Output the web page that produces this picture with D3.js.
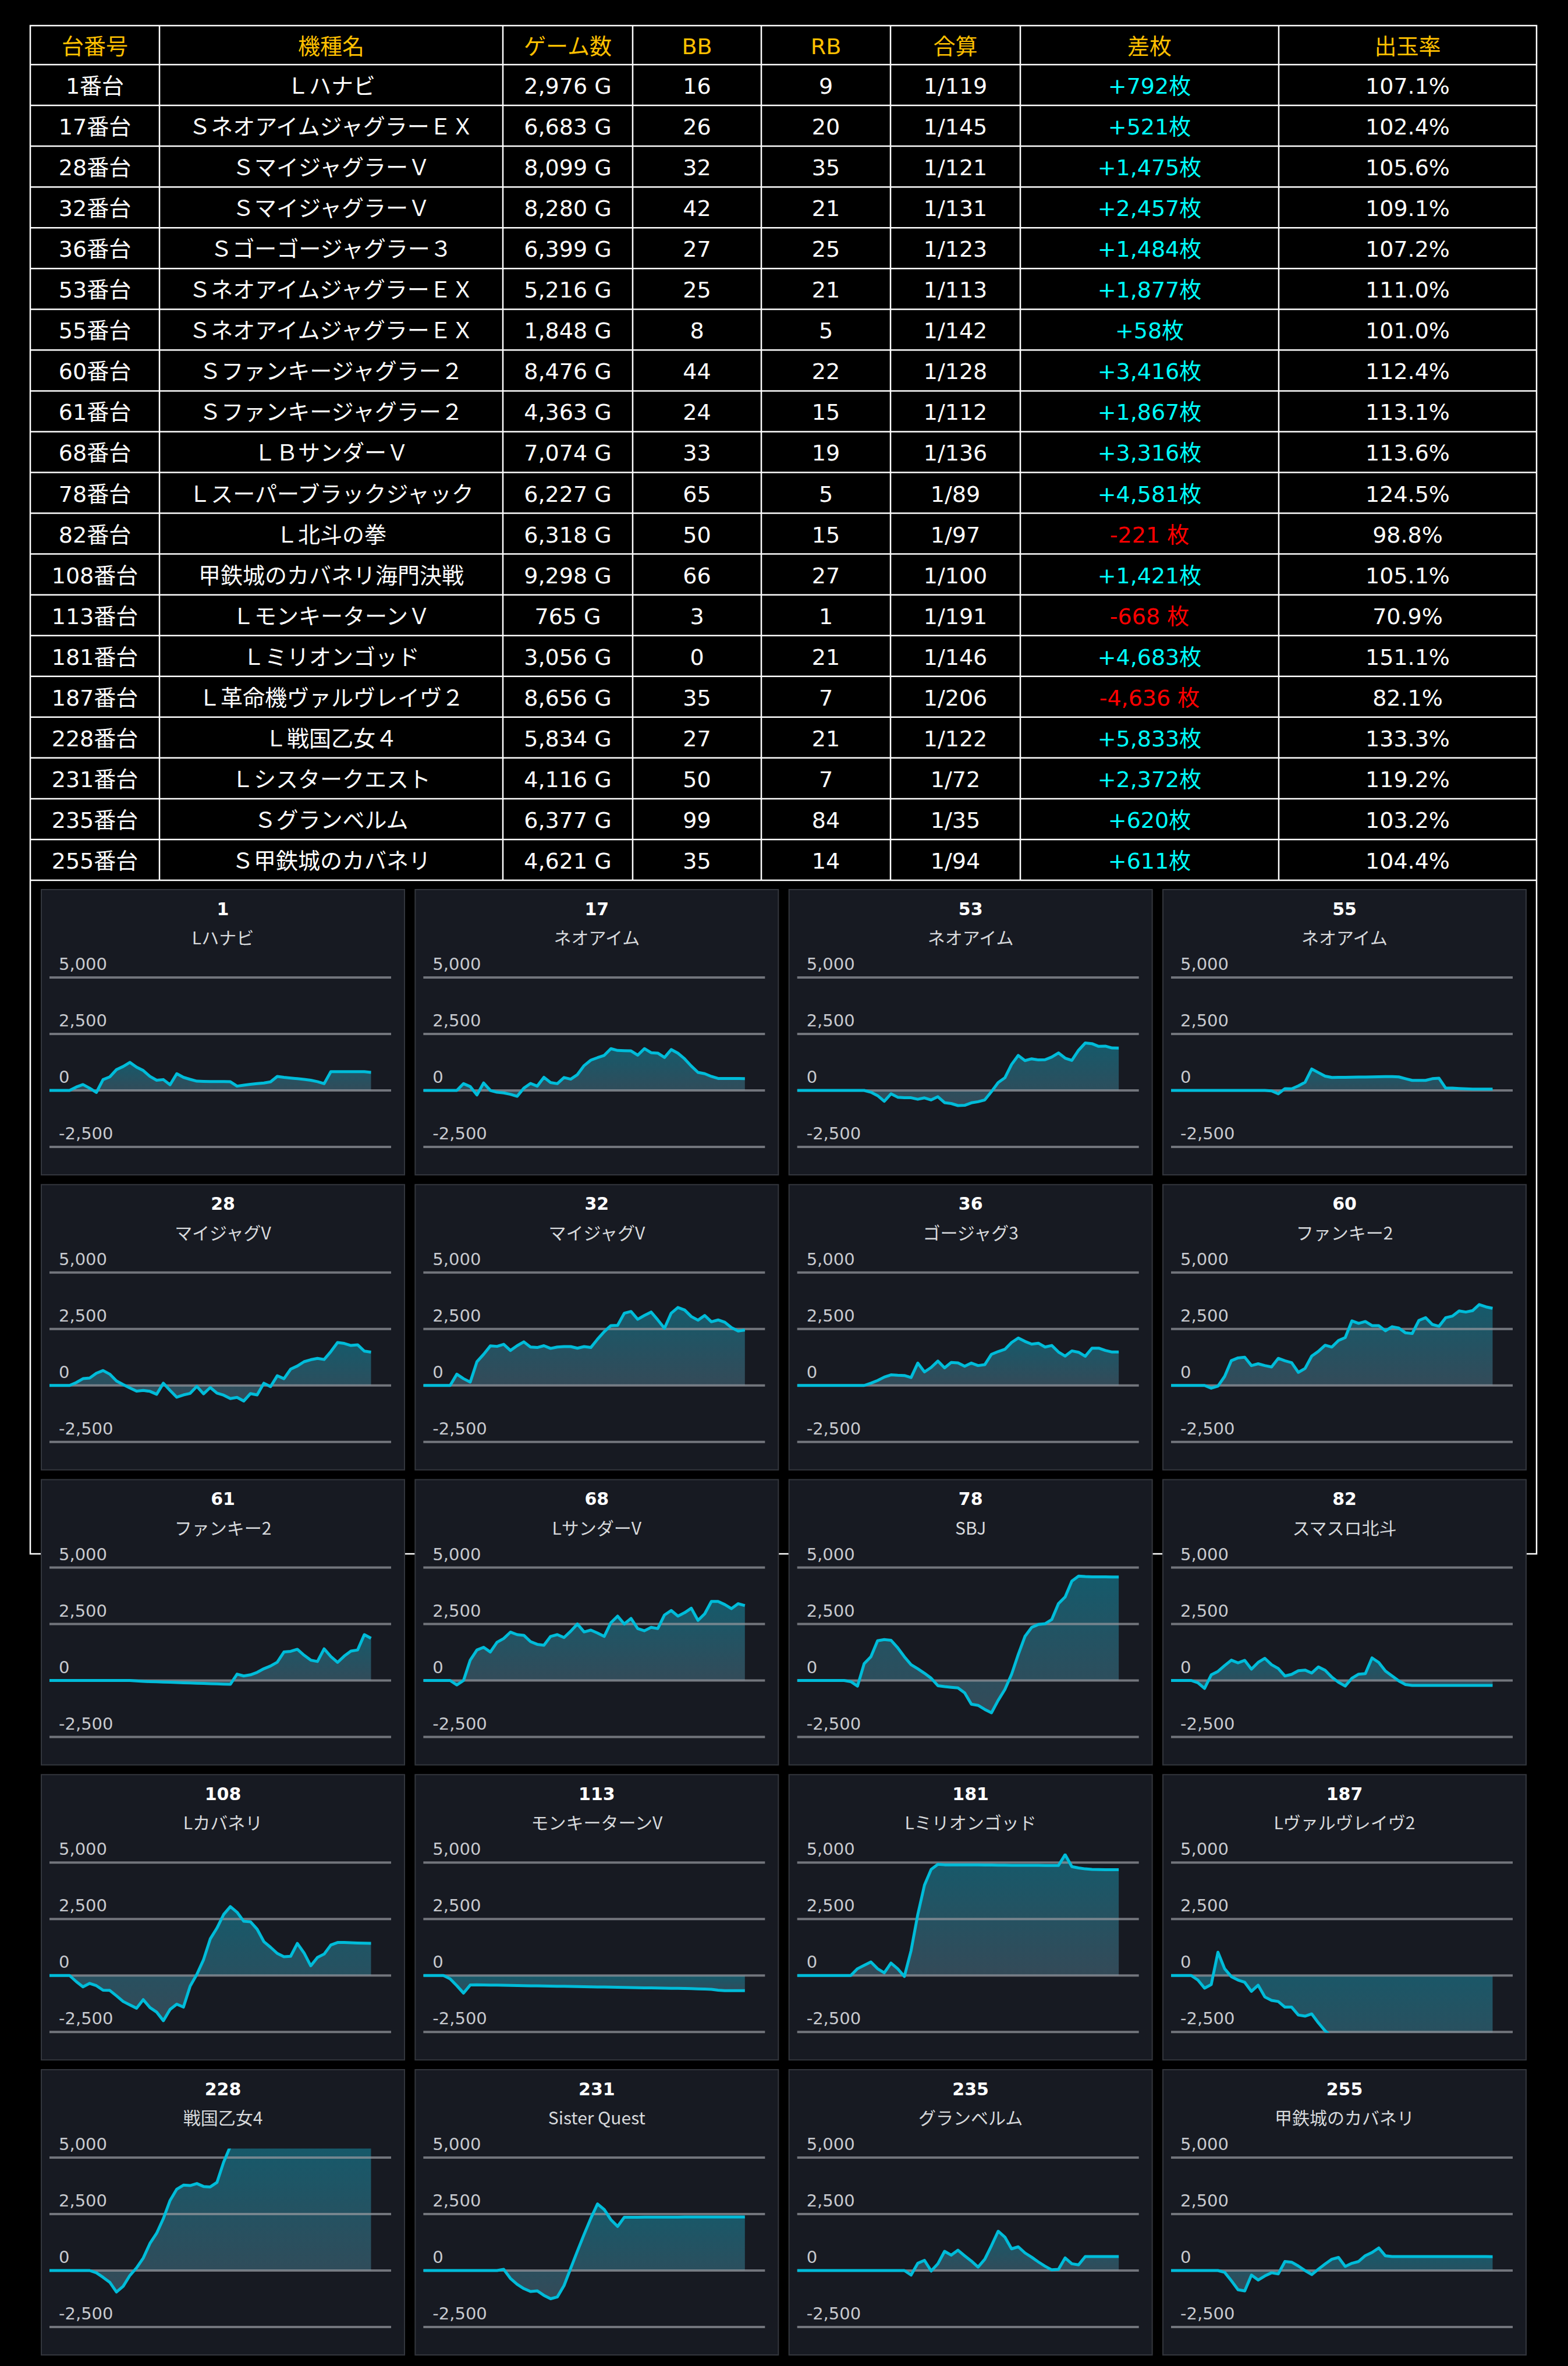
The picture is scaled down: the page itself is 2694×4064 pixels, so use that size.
<!DOCTYPE html>
<html>
<head>
<meta charset="utf-8">
<script src="https://cdn.jsdelivr.net/npm/d3@7"></script>
<style>
  body { margin: 0; background: #000; }
  svg { display: block; }
</style>
</head>
<body>
<div id="chart"></div>
<script>
// ---- table data ----
const headers = ["台番号", "機種名", "ゲーム数", "BB", "RB", "合算", "差枚", "出玉率"];
const tableNo = ["1番台", "17番台", "28番台", "32番台", "36番台", "53番台", "55番台", "60番台", "61番台", "68番台",
  "78番台", "82番台", "108番台", "113番台", "181番台", "187番台", "228番台", "231番台", "235番台", "255番台"];
const machineNames = ["Ｌハナビ", "ＳネオアイムジャグラーＥＸ", "ＳマイジャグラーＶ", "ＳマイジャグラーＶ", "Ｓゴーゴージャグラー３",
  "ＳネオアイムジャグラーＥＸ", "ＳネオアイムジャグラーＥＸ", "Ｓファンキージャグラー２", "Ｓファンキージャグラー２", "ＬＢサンダーＶ",
  "Ｌスーパーブラックジャック", "Ｌ北斗の拳", "甲鉄城のカバネリ海門決戦", "ＬモンキーターンＶ", "Ｌミリオンゴッド",
  "Ｌ革命機ヴァルヴレイヴ２", "Ｌ戦国乙女４", "Ｌシスタークエスト", "Ｓグランベルム", "Ｓ甲鉄城のカバネリ"];
const games = [2976, 6683, 8099, 8280, 6399, 5216, 1848, 8476, 4363, 7074, 6227, 6318, 9298, 765, 3056, 8656, 5834, 4116, 6377, 4621];
const bb = [16, 26, 32, 42, 27, 25, 8, 44, 24, 33, 65, 50, 66, 3, 0, 35, 27, 50, 99, 35];
const rb = [9, 20, 35, 21, 25, 21, 5, 22, 15, 19, 5, 15, 27, 1, 21, 7, 21, 7, 84, 14];
const gassan = ["1/119", "1/145", "1/121", "1/131", "1/123", "1/113", "1/142", "1/128", "1/112", "1/136",
  "1/89", "1/97", "1/100", "1/191", "1/146", "1/206", "1/122", "1/72", "1/35", "1/94"];
const diff = [792, 521, 1475, 2457, 1484, 1877, 58, 3416, 1867, 3316, 4581, -221, 1421, -668, 4683, -4636, 5833, 2372, 620, 611];
const rate = ["107.1%", "102.4%", "105.6%", "109.1%", "107.2%", "111.0%", "101.0%", "112.4%", "113.1%", "113.6%",
  "124.5%", "98.8%", "105.1%", "70.9%", "151.1%", "82.1%", "133.3%", "119.2%", "103.2%", "104.4%"];

// ---- chart panel data (差枚 over the day) ----
const panelNo = [1, 17, 53, 55, 28, 32, 36, 60, 61, 68, 78, 82, 108, 113, 181, 187, 228, 231, 235, 255];
const panelName = ["Lハナビ", "ネオアイム", "ネオアイム", "ネオアイム", "マイジャグV", "マイジャグV", "ゴージャグ3", "ファンキー2",
  "ファンキー2", "LサンダーV", "SBJ", "スマスロ北斗", "Lカバネリ", "モンキーターンV", "Lミリオンゴッド", "Lヴァルヴレイヴ2",
  "戦国乙女4", "Sister Quest", "グランベルム", "甲鉄城のカバネリ"];
const yTicks = [5000, 2500, 0, -2500];

const s1 = [0,0,0,0,150,260,100,-90,480,600,920,1060,1240,1030,880,620,450,480,250,740,580,490,410,400,395,390,390,385,190,230,270,300,330,380,620,580,550,520,490,450,390,300,830,830,830,830,830,830,800];
const s17 = [0,0,0,0,0,0,300,170,-200,330,0,-80,-110,-170,-260,100,310,190,580,350,300,570,500,700,1100,1340,1450,1550,1850,1770,1760,1750,1560,1850,1670,1650,1460,1810,1650,1400,1080,800,740,620,530,530,530,530,521];
const s53 = [0,0,0,0,0,0,0,0,0,0,0,-80,-230,-480,-150,-300,-325,-325,-390,-330,-420,-280,-540,-580,-670,-660,-550,-500,-420,-50,350,560,1150,1550,1320,1400,1350,1360,1480,1660,1430,1330,1780,2100,2070,1950,1960,1880,1877];
const s55 = [0,0,0,0,0,0,0,0,0,0,0,0,0,0,0,-20,-150,80,70,200,360,950,790,630,575,580,580,585,590,595,600,605,610,615,600,520,445,445,445,520,540,100,100,85,70,60,60,58,58];
const s28 = [0,0,0,0,130,300,330,540,660,500,200,40,-110,-250,-220,-260,-390,100,-220,-520,-420,-350,-40,-370,-90,-340,-430,-580,-530,-690,-360,-420,100,-50,430,300,720,860,1050,1140,1200,1150,1500,1900,1860,1770,1800,1520,1475];
const s32 = [0,0,0,0,0,500,300,150,1050,1380,1750,1730,1820,1550,1760,1930,1700,1680,1760,1640,1700,1720,1720,1650,1720,1680,2050,2380,2650,2660,3200,3275,2930,3100,3250,2900,2530,3200,3450,3340,3050,2890,3100,2820,2900,2800,2560,2410,2457];
const s36 = [0,0,0,0,0,0,0,0,0,0,0,100,220,370,470,450,440,350,990,600,800,1080,780,1020,1000,850,990,880,920,1380,1500,1600,1900,2100,1950,1830,1870,1700,1770,1480,1300,1530,1470,1290,1650,1650,1550,1480,1484];
const s60 = [0,0,0,0,0,0,-120,-30,400,1100,1220,1250,880,960,880,820,1200,1090,1010,580,750,1300,1510,1780,1700,1990,2120,2860,2750,2830,2650,2650,2420,2600,2540,2330,2300,2880,3000,2700,2620,3000,3070,3300,3250,3310,3580,3480,3416];
const s61 = [0,0,0,0,0,0,0,0,0,0,0,0,0,-20,-40,-50,-60,-70,-80,-90,-100,-110,-120,-130,-140,-150,-160,-170,280,200,250,360,520,640,810,1260,1290,1380,1120,900,840,1400,1060,800,1080,1300,1350,2030,1867];
const s68 = [0,0,0,0,0,-200,0,900,1350,1470,1260,1690,1860,2140,2030,2000,1720,1600,1560,1950,2030,1900,2180,2500,2150,2230,2100,1950,2560,2850,2500,2750,2300,2200,2350,2300,2900,3100,2850,3000,3200,2660,2950,3500,3500,3360,3180,3400,3316];
const s78 = [0,0,0,0,0,0,0,0,-50,-250,750,1050,1760,1810,1780,1450,1050,700,520,320,100,-230,-270,-300,-330,-550,-1050,-1100,-1280,-1430,-880,-400,270,1150,1950,2350,2480,2510,2700,3400,3700,4400,4620,4600,4590,4590,4585,4581,4581];
const s82 = [0,0,0,0,-100,-350,250,400,660,900,780,890,500,800,980,700,530,200,270,430,460,330,600,450,150,-80,-250,100,280,300,1000,800,420,200,-20,-180,-220,-221,-221,-221,-221,-221,-221,-221,-221,-221,-221,-221,-221];
const s108 = [0,0,0,0,-270,-500,-350,-450,-650,-660,-900,-1150,-1300,-1450,-1070,-1420,-1620,-2000,-1500,-1270,-1400,-470,50,700,1620,2100,2700,3050,2800,2400,2380,2050,1500,1250,980,830,850,1420,1000,430,800,950,1350,1460,1460,1450,1440,1430,1421];
const s113 = [0,0,0,0,-150,-450,-780,-420,-410,-420,-425,-428,-434,-440,-444,-450,-456,-460,-466,-470,-476,-480,-486,-490,-494,-500,-506,-510,-514,-520,-530,-535,-540,-545,-550,-555,-560,-565,-570,-575,-580,-590,-600,-610,-650,-668,-668,-668,-668];
const s181 = [0,0,0,0,0,0,0,0,0,300,450,600,300,120,550,300,-40,1100,2700,4000,4700,4920,4900,4900,4900,4900,4895,4895,4890,4890,4885,4885,4880,4880,4880,4875,4875,4870,4870,4870,5350,4820,4760,4720,4700,4690,4683,4683,4683];
const s187 = [0,0,0,0,-200,-560,-400,1030,300,-50,-200,-300,-700,-430,-950,-1100,-1150,-1400,-1400,-1750,-1800,-1700,-2100,-2450,-2700,-2900,-3100,-3200,-3350,-3500,-3600,-3700,-3800,-3900,-4000,-4100,-4200,-4250,-4300,-4350,-4400,-4450,-4500,-4550,-4580,-4600,-4620,-4636,-4636];
const s228 = [0,0,0,0,0,0,0,-100,-300,-520,-950,-700,-220,120,550,1200,1650,2300,3100,3600,3780,3760,3850,3720,3700,3900,4800,5500,5600,5650,5680,5700,5720,5740,5750,5760,5770,5780,5790,5800,5810,5815,5820,5825,5828,5830,5832,5833,5833];
const s231 = [0,0,0,0,0,0,0,0,0,0,0,0,50,-350,-610,-800,-930,-900,-1100,-1250,-1170,-670,100,860,1600,2310,2950,2700,2250,1950,2360,2360,2360,2362,2362,2364,2364,2366,2366,2368,2368,2370,2370,2370,2372,2372,2372,2372,2372];
const s235 = [0,0,0,0,0,0,0,0,0,0,0,0,0,0,0,0,0,-200,320,450,-20,300,850,680,900,650,420,150,500,1100,1740,1480,960,1050,780,590,380,190,30,50,560,300,250,620,620,620,620,620,620];
const s255 = [0,0,0,0,0,0,0,0,-80,-450,-850,-900,-200,-420,-240,-100,-150,400,370,200,0,-180,60,290,500,580,180,320,400,660,800,1000,650,620,620,620,620,620,620,620,620,620,620,620,620,620,620,620,611];

const series = [s1, s17, s53, s55, s28, s32, s36, s60, s61, s68, s78, s82, s108, s113, s181, s187, s228, s231, s235, s255];

// ---- page ----
const W = 2694, H = 4064;
const tableFont = "'DejaVu Sans', 'Noto Sans CJK JP', sans-serif";
const chartFont = "'DejaVu Sans', 'Noto Sans CJK JP', sans-serif";
const nameFont = "'Noto Sans CJK JP', 'DejaVu Sans', sans-serif";

const svg = d3.select("#chart").append("svg")
  .attr("width", W)
  .attr("height", H);

svg.append("rect").attr("width", W).attr("height", H).attr("fill", "#000");

const comma = d3.format(",");
const fmtSigned = v => v < 0 ? "-" + comma(-v) : comma(v);

// column edges of the table
const colX = [52, 274, 864, 1087, 1308, 1530, 1753, 2197, 2640];
const tableTop = 44, headerBottom = 111, tableBottom = 1512, frameBottom = 2669;

// row scale: row index -> top edge
const rowY = d3.scaleLinear().domain([0, tableNo.length]).range([headerBottom, tableBottom]);

// outer white frame (table + chart area)
svg.append("rect")
  .attr("x", colX[0]).attr("y", tableTop)
  .attr("width", colX[8] - colX[0]).attr("height", frameBottom - tableTop)
  .attr("fill", "none").attr("stroke", "#fff").attr("stroke-width", 2.5);

// horizontal row lines
const lines = svg.append("g").attr("stroke", "#fff").attr("stroke-width", 2.5);
d3.range(0, tableNo.length + 1).forEach(i => {
  lines.append("line")
    .attr("x1", colX[0]).attr("x2", colX[8])
    .attr("y1", rowY(i)).attr("y2", rowY(i));
});
// vertical column lines
colX.slice(1, 8).forEach(x => {
  lines.append("line")
    .attr("x1", x).attr("x2", x)
    .attr("y1", tableTop).attr("y2", tableBottom);
});

// header text
headers.forEach((h, c) => {
  svg.append("text")
    .attr("x", (colX[c] + colX[c + 1]) / 2)
    .attr("y", (tableTop + headerBottom) / 2 + 2)
    .attr("text-anchor", "middle")
    .attr("dominant-baseline", "central")
    .style("font-family", tableFont)
    .style("font-size", "38px")
    .attr("fill", "#ffc000")
    .text(h);
});

// body rows
tableNo.forEach((no, i) => {
  const cells = [
    no,
    machineNames[i],
    comma(games[i]) + " G",
    bb[i],
    rb[i],
    gassan[i],
    diff[i] >= 0 ? "+" + comma(diff[i]) + "枚" : fmtSigned(diff[i]) + " 枚",
    rate[i]
  ];
  const cy = (rowY(i) + rowY(i + 1)) / 2 + 2;
  cells.forEach((t, c) => {
    let color = "#fff";
    if (c === 6) color = diff[i] >= 0 ? "#00ffff" : "#ff0000";
    svg.append("text")
      .attr("x", (colX[c] + colX[c + 1]) / 2)
      .attr("y", cy)
      .attr("text-anchor", "middle")
      .attr("dominant-baseline", "central")
      .style("font-family", tableFont)
      .style("font-size", "38px")
      .attr("fill", color)
      .text(t);
  });
});

// ---- chart panels ----
const panelW = 624, panelH = 490;
const colScale = d3.scaleLinear().domain([0, 3]).range([71, 1998]);
const rowScale = d3.scaleLinear().domain([0, 4]).range([1528, 3555]);

// local scales, shared by every panel
const x = d3.scaleLinear().domain([0, 51]).range([14, 601]);
const y = d3.scaleLinear().domain([-2500, 5000]).range([442, 151]);

const defs = svg.append("defs");
const grad = defs.append("linearGradient")
  .attr("id", "areaFill")
  .attr("x1", 0).attr("y1", 0).attr("x2", 0).attr("y2", 1);
grad.append("stop").attr("offset", 0).attr("stop-color", "#155a6b");
grad.append("stop").attr("offset", 1).attr("stop-color", "#344a58");

defs.append("clipPath").attr("id", "plotClip")
  .append("rect")
  .attr("x", x(0)).attr("y", y(5400))
  .attr("width", x(51) - x(0)).attr("height", y(-2530) - y(5400));

const area = d3.area()
  .x((d, i) => x(i))
  .y0(y(0))
  .y1(d => y(d));

const line = d3.line()
  .x((d, i) => x(i))
  .y(d => y(d));

series.forEach((data, k) => {
  const g = svg.append("g")
    .attr("transform", `translate(${colScale(k % 4)},${rowScale(Math.floor(k / 4))})`);

  // panel background
  g.append("rect")
    .attr("width", panelW).attr("height", panelH)
    .attr("fill", "#171a22")
    .attr("stroke", "#33363d").attr("stroke-width", 2);

  // title (number) and machine name
  g.append("text")
    .attr("x", panelW / 2).attr("y", 33)
    .attr("text-anchor", "middle").attr("dominant-baseline", "central")
    .style("font-family", chartFont).style("font-size", "30px").style("font-weight", "bold")
    .attr("fill", "#fff")
    .text(panelNo[k]);

  g.append("text")
    .attr("x", panelW / 2).attr("y", 81)
    .attr("text-anchor", "middle").attr("dominant-baseline", "central")
    .style("font-family", nameFont).style("font-size", "30px")
    .attr("fill", "#d8dadd")
    .text(panelName[k]);

  // filled area, clipped to the plot box
  const plot = g.append("g").attr("clip-path", "url(#plotClip)");
  plot.append("path")
    .datum(data)
    .attr("d", area)
    .attr("fill", "url(#areaFill)");

  // grid lines and tick labels
  yTicks.forEach(t => {
    g.append("line")
      .attr("x1", x(0)).attr("x2", x(51))
      .attr("y1", y(t)).attr("y2", y(t))
      .attr("stroke", "rgba(150,153,160,0.72)")
      .attr("stroke-width", 4);
    g.append("text")
      .attr("x", 30).attr("y", y(t) - 13)
      .style("font-family", chartFont).style("font-size", "29px")
      .attr("fill", "#c8cacf")
      .text(fmtSigned(t));
  });

  // the line on top
  g.append("g").attr("clip-path", "url(#plotClip)")
    .append("path")
    .datum(data)
    .attr("d", line)
    .attr("fill", "none")
    .attr("stroke", "#00bcd9")
    .attr("stroke-width", 5)
    .attr("stroke-linejoin", "round");
});
</script>
</body>
</html>
